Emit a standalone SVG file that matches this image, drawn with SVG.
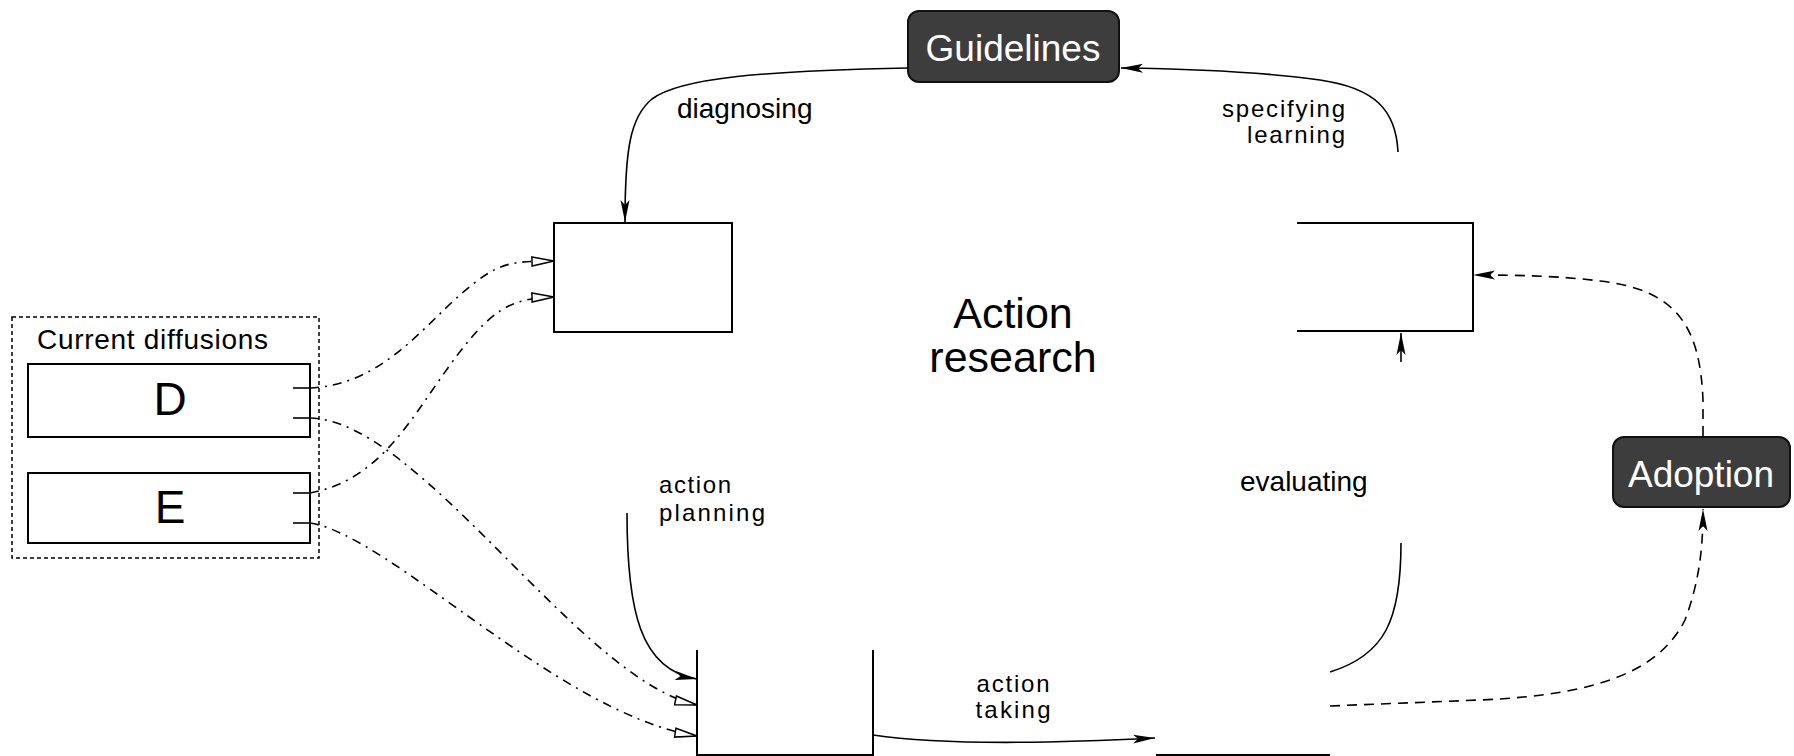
<svg xmlns="http://www.w3.org/2000/svg" width="1794" height="756" viewBox="0 0 1794 756">
<style>
text{font-family:"Liberation Sans",Arial,sans-serif;fill:#000}
.box{fill:#fff;stroke:#000;stroke-width:2}
.open{fill:none;stroke:#000;stroke-width:2}
.dark{fill:#3d3d3d;stroke:#111;stroke-width:2}
.dk{fill:#fff;font-size:37px;text-anchor:middle}
.lbl{font-size:28px}
.lb2{font-size:24px}
.solid{fill:none;stroke:#000;stroke-width:1.6}
.dd{fill:none;stroke:#000;stroke-width:1.6;stroke-dasharray:9 6 2 6}
.dash{fill:none;stroke:#000;stroke-width:1.6;stroke-dasharray:10 7}
.tick{stroke:#000;stroke-width:1.6}
</style>
<defs>
<marker id="af" markerWidth="24" markerHeight="12" refX="22" refY="6" orient="auto" markerUnits="userSpaceOnUse">
<path d="M0,1.5 L22,6 L0,10.5 L5,6 Z" fill="#000"/>
</marker>
<marker id="ao" markerWidth="26" markerHeight="14" refX="23" refY="7" orient="auto" markerUnits="userSpaceOnUse">
<path d="M1,2.5 L23,7 L1,11.5 Z" fill="#fff" stroke="#000" stroke-width="1.5"/>
</marker>
</defs>

<g id="container">
<rect x="12" y="317" width="307" height="241" fill="none" stroke="#000" stroke-width="1.5" stroke-dasharray="4 3"/>
<text x="37" y="349" class="lbl" textLength="231" lengthAdjust="spacing">Current diffusions</text>
</g>

<g id="node-D">
<rect class="box" x="28" y="364" width="282" height="73"/>
<text x="170" y="415" font-size="46" text-anchor="middle">D</text>
<line class="tick" x1="293" y1="388" x2="310" y2="388"/>
<line class="tick" x1="293" y1="418" x2="310" y2="418"/>
</g>

<g id="node-E">
<rect class="box" x="28" y="473" width="282" height="70"/>
<text x="170" y="523" font-size="46" text-anchor="middle">E</text>
<line class="tick" x1="293" y1="493" x2="310" y2="493"/>
<line class="tick" x1="293" y1="523" x2="310" y2="523"/>
</g>

<g id="node-guidelines">
<rect class="dark" x="908" y="11" width="211" height="71" rx="11"/>
<text x="1013" y="61" class="dk">Guidelines</text>
</g>

<g id="node-adoption">
<rect class="dark" x="1613" y="437" width="177" height="70" rx="11"/>
<text x="1701" y="487" class="dk" font-size="36">Adoption</text>
</g>

<g id="node-diagnosing">
<rect class="box" x="554" y="223" width="178" height="109"/>
</g>

<g id="node-specifying">
<path class="open" d="M1297,223 H1473 V331 H1297"/>
</g>

<g id="node-planning">
<path class="open" d="M697,650 V755 H873 V650"/>
</g>

<g id="node-evaluating">
<path class="open" d="M1156,755 H1330"/>
</g>

<g id="center-label">
<text x="1013" y="328" font-size="43" text-anchor="middle">Action</text>
<text x="1013" y="372" font-size="43" text-anchor="middle">research</text>
</g>

<g id="connectors">
<path class="solid" d="M908,68 C 760,71 680,78 652,99 C 630,117 625,150 625,222" marker-end="url(#af)"/>
<path class="solid" d="M1398,152 C 1396,110 1375,88 1320,80 C 1270,73 1200,69 1121,68" marker-end="url(#af)"/>
<path class="solid" d="M627,513 C 627,610 640,670 697,679" marker-end="url(#af)"/>
<path class="solid" d="M873,735 Q 960,748 1155,738" marker-end="url(#af)"/>
<path class="solid" d="M1330,672 C 1385,655 1401,620 1401,543"/>
<path class="solid" d="M1401,362 L1401,333" marker-end="url(#af)"/>
<path class="dash" d="M1703,436 L1703,400 C 1700,330 1680,290 1600,281 C 1560,276 1520,275 1473,275" marker-end="url(#af)"/>
<path class="dash" d="M1330,706 L1480,700 C 1600,695 1660,670 1685,620 C 1700,580 1703,545 1703,509" marker-end="url(#af)"/>
<path class="dd" d="M310,388 C 380,385 420,330 460,295 S 510,262 554,261" marker-end="url(#ao)"/>
<path class="dd" d="M310,493 C 380,480 410,420 450,365 S 510,298 554,297" marker-end="url(#ao)"/>
<path class="dd" d="M310,418 C 420,420 580,680 697,705" marker-end="url(#ao)"/>
<path class="dd" d="M310,523 C 390,535 560,715 697,736" marker-end="url(#ao)"/>
</g>

<g id="labels">
<text x="677" y="118" class="lbl">diagnosing</text>
<text x="1345" y="117" class="lb2" text-anchor="end" textLength="123" lengthAdjust="spacing">specifying</text>
<text x="1345" y="143" class="lb2" text-anchor="end" textLength="98" lengthAdjust="spacing">learning</text>
<text x="659" y="493" class="lb2" textLength="72" lengthAdjust="spacing">action</text>
<text x="659" y="521" class="lb2" textLength="106" lengthAdjust="spacing">planning</text>
<text x="1240" y="491" class="lbl">evaluating</text>
<text x="1013" y="692" class="lb2" text-anchor="middle" textLength="73" lengthAdjust="spacing">action</text>
<text x="1013" y="718" class="lb2" text-anchor="middle" textLength="75" lengthAdjust="spacing">taking</text>
</g>
</svg>
